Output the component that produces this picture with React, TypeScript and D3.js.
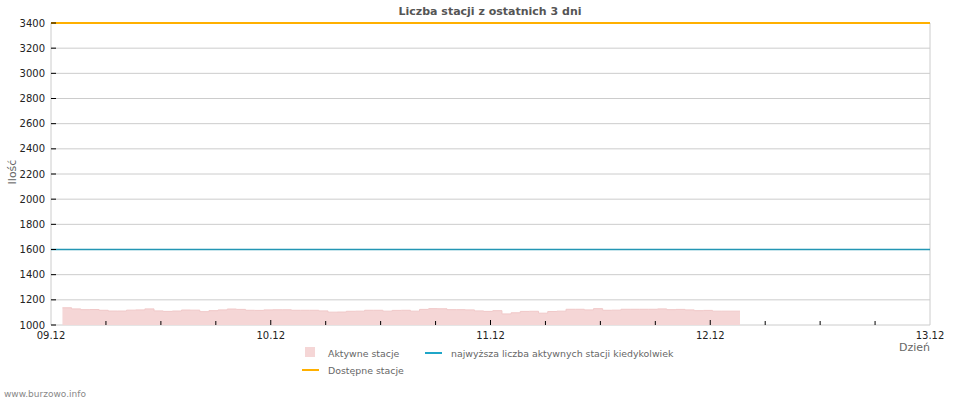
import * as d3 from 'd3';

// hourly samples of active stations, starting 09.12 01:15
const activeStart = new Date(2024, 11, 9, 1, 15);
const activeValues = [
  1137, 1128, 1122, 1123, 1117, 1111, 1111, 1118, 1120, 1128,
  1112, 1108, 1111, 1119, 1118, 1106, 1114, 1120, 1127, 1124,
  1117, 1116, 1120, 1121, 1121, 1117, 1117, 1117, 1112, 1102,
  1103, 1109, 1110, 1117, 1117, 1110, 1116, 1117, 1110, 1124,
  1130, 1129, 1122, 1122, 1120, 1112, 1108, 1114, 1088, 1097,
  1108, 1109, 1094, 1107, 1110, 1125, 1125, 1120, 1130, 1117,
  1118, 1125, 1125, 1125, 1125, 1128, 1122, 1124, 1120, 1114,
  1116, 1110, 1110, 1110, 1110,
];
const maxEver = 1600;
const available = 3400;

const yTicks = [1000, 1200, 1400, 1600, 1800, 2000, 2200, 2400, 2600, 2800, 3000, 3200, 3400];
const dayTicks = ['09.12', '10.12', '11.12', '12.12', '13.12'];

const font = '"DejaVu Sans", Verdana, sans-serif';

export default function App() {
  const left = 51;
  const right = 930;
  const top = 23;
  const bottom = 325;

  const x = d3
    .scaleTime()
    .domain([new Date(2024, 11, 9), new Date(2024, 11, 13)])
    .range([left, right]);

  const y = d3.scaleLinear().domain([1000, 3400]).range([bottom, top]);

  const data = activeValues.map((v, i) => ({
    t: new Date(activeStart.getTime() + i * 3600 * 1000),
    v,
  }));

  const area = d3
    .area<{ t: Date; v: number }>()
    .x((d) => x(d.t))
    .y0(y(1000))
    .y1((d) => y(d.v))
    .curve(d3.curveStepAfter);

  const topLine = d3
    .line<{ t: Date; v: number }>()
    .x((d) => x(d.t))
    .y((d) => y(d.v))
    .curve(d3.curveStepAfter);

  const minorTicks = x.ticks(d3.timeHour.every(6)!);

  return (
    <svg
      width={980}
      height={400}
      style={{ position: 'absolute', left: 0, top: 0, background: '#fff' }}
      fontFamily={font}
    >
      {/* title */}
      <text x={490} y={15} textAnchor="middle" fontSize={11} fontWeight="bold" fill="#555">
        Liczba stacji z ostatnich 3 dni
      </text>

      {/* grid */}
      {yTicks.map((t) => (
        <line key={t} x1={left} x2={right} y1={y(t)} y2={y(t)} stroke="#ccc" strokeWidth={1} />
      ))}
      <line x1={left} x2={left} y1={top} y2={bottom} stroke="#ccc" />
      <line x1={right} x2={right} y1={top} y2={bottom} stroke="#ccc" />

      {/* active stations */}
      <path d={area(data)!} fill="#f5d6d6" />
      <path d={topLine(data)!} fill="none" stroke="#f0c8c8" strokeWidth={1} />

      {/* max ever */}
      <line x1={left} x2={right} y1={y(maxEver)} y2={y(maxEver)} stroke="#2396b4" strokeWidth={1.5} />
      {/* available */}
      <line x1={left} x2={right} y1={y(available)} y2={y(available)} stroke="#ffb000" strokeWidth={2} />

      {/* y axis */}
      {yTicks.map((t) => (
        <g key={t}>
          <line x1={left} x2={left + 5} y1={y(t)} y2={y(t)} stroke="#000" />
          <text x={45} y={y(t)} dy="0.35em" textAnchor="end" fontSize={10} fill="#222">
            {t}
          </text>
        </g>
      ))}

      {/* x axis */}
      {minorTicks.map((t, i) => {
        const major = t.getHours() === 0;
        if (i === 0 || i === minorTicks.length - 1) return null;
        return (
          <line
            key={i}
            x1={x(t)}
            x2={x(t)}
            y1={bottom}
            y2={bottom - (major ? 5 : 4)}
            stroke="#000"
          />
        );
      })}
      {dayTicks.map((label, i) => (
        <text
          key={label}
          x={x(d3.timeDay.offset(new Date(2024, 11, 9), i))}
          y={339}
          textAnchor="middle"
          fontSize={10}
          fill="#222"
        >
          {label}
        </text>
      ))}

      <text x={930} y={351} textAnchor="end" fontSize={11} fill="#666">
        Dzień
      </text>
      <text
        transform={`translate(16, ${172}) rotate(-90)`}
        textAnchor="middle"
        fontSize={11}
        fill="#666"
      >
        Ilość
      </text>

      {/* legend */}
      <rect x={305} y={347} width={10} height={10} fill="#f5d6d6" />
      <text x={328} y={357} fontSize={9.4} fill="#666">
        Aktywne stacje
      </text>
      <line x1={425} x2={442} y1={353} y2={353} stroke="#1fa6c8" strokeWidth={2} />
      <text x={451} y={357} fontSize={9.4} fill="#666">
        najwyższa liczba aktywnych stacji kiedykolwiek
      </text>
      <line x1={302} x2={319} y1={370} y2={370} stroke="#ffb000" strokeWidth={2} />
      <text x={328} y={374} fontSize={9.4} fill="#666">
        Dostępne stacje
      </text>

      <text x={4} y={397} fontSize={9} fill="#888">
        www.burzowo.info
      </text>
    </svg>
  );
}
